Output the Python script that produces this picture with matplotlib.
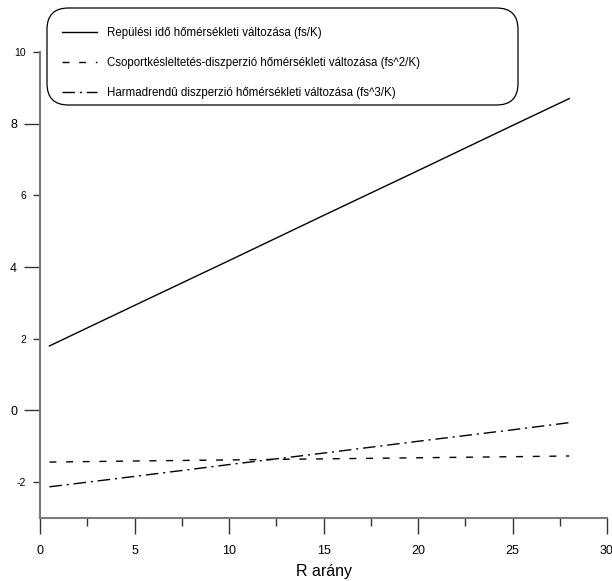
import matplotlib
matplotlib.use("Agg")
import matplotlib.pyplot as plt
from matplotlib.patches import FancyBboxPatch
from matplotlib.ticker import MultipleLocator, FixedLocator, FuncFormatter

plt.rcParams['font.family'] = ['Liberation Sans', 'DejaVu Sans']

# R values and the three temperature coefficients
r_arany = [0.5, 5, 10, 15, 20, 25, 28]
repulesi_ido = [1.80, 2.93, 4.18, 5.44, 6.69, 7.95, 8.70]
csoport_kesl = [-1.44, -1.41, -1.38, -1.35, -1.32, -1.29, -1.27]
harmadrendu = [-2.13, -1.84, -1.51, -1.19, -0.86, -0.54, -0.34]

labels = ["Repülési idő hőmérsékleti változása (fs/K)",
          "Csoportkésleltetés-diszperzió hőmérsékleti változása (fs^2/K)",
          "Harmadrendû diszperzió hőmérsékleti változása (fs^3/K)"]

y_major = [0, 4, 8]
y_minor = [-2, 2, 6, 10]

W, H = 612, 581
fig = plt.figure(figsize=(W / 100, H / 100), dpi=100)
ax = fig.add_axes([40 / W, 1 - 518 / H, 567 / W, 466 / H])

ax.plot(r_arany, repulesi_ido, color='black', lw=1.0, ls='-', label=labels[0])
ax.plot(r_arany, csoport_kesl, color='black', lw=1.0, ls=(0, (5, 7)), label=labels[1])
ax.plot(r_arany, harmadrendu, color='black', lw=1.0, ls=(0, (9, 3.5, 1.5, 3.5)), label=labels[2])

ax.set_xlim(0, 30)
ax.set_ylim(-3, 10)

for side in ['top', 'right']:
    ax.spines[side].set_visible(False)
for side in ['left', 'bottom']:
    ax.spines[side].set_color('#7a7a7a')
    ax.spines[side].set_linewidth(1.5)

ax.xaxis.set_major_locator(MultipleLocator(5))
ax.xaxis.set_minor_locator(MultipleLocator(2.5))
ax.yaxis.set_major_locator(FixedLocator(y_major))
ax.yaxis.set_minor_locator(FixedLocator(y_minor))
ax.yaxis.set_minor_formatter(FuncFormatter(lambda v, p: f"{v:g}"))

ax.tick_params(axis='x', which='major', direction='out', length=11.5, width=1,
               color='#333333', labelsize=9, pad=8)
ax.tick_params(axis='x', which='minor', direction='out', length=6, width=1, color='#333333')
ax.tick_params(axis='y', which='major', direction='out', length=11.5, width=1,
               color='#333333', labelsize=9, pad=5)
ax.tick_params(axis='y', which='minor', direction='out', length=5, width=1,
               color='#333333', labelsize=7.5, pad=5)

ax.set_xlabel("R arány", fontsize=11.5, labelpad=5)

# legend entries without frame, rounded box drawn separately
leg = ax.legend(loc='upper left', bbox_to_anchor=(62 / W, 1 - 27 / H),
                bbox_transform=fig.transFigure, fontsize=8.3,
                handlelength=3.05, handletextpad=0.87, labelspacing=1.58,
                borderpad=0, borderaxespad=0, frameon=False)

box = FancyBboxPatch((47 / W, 1 - 105 / H), 471 / W, 97 / H,
                     boxstyle='round,pad=0,rounding_size=0.035',
                     transform=fig.transFigure, facecolor='white',
                     edgecolor='black', linewidth=0.9, zorder=4,
                     mutation_aspect=W / H, clip_on=False)
ax.add_patch(box)

fig.savefig("out.png", dpi=100)
